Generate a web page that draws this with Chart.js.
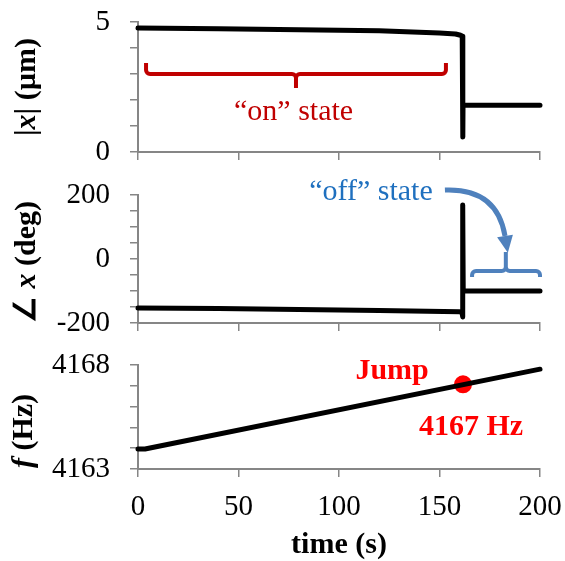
<!DOCTYPE html>
<html>
<head>
  <title>on/off state</title>
  <script src="https://cdn.jsdelivr.net/npm/chart.js"></script>
  <style>
    body { margin: 0; background: #fff; }
    #wrap { position: relative; width: 565px; height: 561px; }
    #wrap canvas { position: absolute; left: 0; }
  </style>
</head>
<body>
  <div id="wrap">
    <canvas id="magChart" width="565" height="170" style="top:0px"></canvas>
    <canvas id="phaseChart" width="565" height="170" style="top:170px"></canvas>
    <canvas id="freqChart" width="565" height="221" style="top:340px"></canvas>
  </div>
<script>
// data
const timeTicks = [0, 50, 100, 150, 200];

const magTime  = [0, 40, 80, 120, 150, 158, 160.5, 161.3, 161.6, 161.7, 200];
const magValue = [4.77, 4.74, 4.70, 4.66, 4.58, 4.54, 4.49, 4.45, 0.58, 1.8, 1.8];
const magTickLabels = [0, 5];

const phaseTime  = [0, 40, 80, 120, 160, 161.2, 161.5, 161.6, 161.8, 200];
const phaseValue = [-153, -155, -158, -161, -165, -168, -181, 169, -100, -100];
const phaseTickLabels = [-200, 0, 200];

const freqTime  = [0, 3.5, 200];
const freqValue = [4163.96, 4163.96, 4167.8];
const freqTickLabels = [4163, 4168];
const jumpTime = [161.7];
const jumpValue = [4167.07];

const SERIF = '"Liberation Serif", "Times New Roman", serif';
const AXIS_GRAY = '#868686';

function pts(xs, ys) {
  return xs.map((x, i) => ({x: x, y: ys[i]}));
}

function xScale(showLabels, height) {
  return {
    type: 'linear', min: 0, max: 200,
    afterBuildTicks: s => { s.ticks = timeTicks.map(v => ({value: v})); },
    ticks: { display: showLabels, autoSkip: false, color: '#000', padding: 13, font: {family: SERIF, size: 29}, maxRotation: 0 },
    grid: { drawOnChartArea: false, drawTicks: true, tickLength: 8, color: AXIS_GRAY, lineWidth: 1.5 },
    border: { color: AXIS_GRAY, width: 2 },
    title: showLabels ? { display: true, text: 'time (s)', color: '#000',
      font: {family: SERIF, size: 30, weight: 'bold', lineHeight: 1}, padding: {top: 0, bottom: 1} } : {display: false},
    afterFit: s => { s.height = height; s.paddingLeft = 0; s.paddingRight = 0; }
  };
}

function yScale(min, max, step, labels) {
  return {
    min: min, max: max,
    ticks: { stepSize: step, autoSkip: false, color: '#000', padding: 20, font: {family: SERIF, size: 29},
      callback: v => labels.includes(v) ? String(v) : '' },
    grid: { drawOnChartArea: false, drawTicks: true, tickLength: 8, color: AXIS_GRAY, lineWidth: 1.5 },
    border: { color: AXIS_GRAY, width: 2 },
    afterFit: s => { s.width = 138; s.paddingTop = 0; s.paddingBottom = 0; }
  };
}

// rotated y title with mixed bold / bold italic pieces
function yTitle(ctx, cx, cy, parts) {
  ctx.save();
  ctx.translate(cx, cy);
  ctx.rotate(-Math.PI / 2);
  ctx.textBaseline = 'middle';
  ctx.fillStyle = '#000';
  let w = 0;
  parts.forEach(p => { ctx.font = p[1] + ' 30px ' + SERIF; w += ctx.measureText(p[0]).width; });
  let x = -w / 2;
  parts.forEach(p => {
    ctx.font = p[1] + ' 30px ' + SERIF;
    ctx.textAlign = 'left';
    ctx.fillText(p[0], x, 0);
    x += ctx.measureText(p[0]).width;
  });
  ctx.restore();
}

function bracket(ctx, x1, x2, xm, y, arm, tip, color) {
  // arm > 0: ends point up, tip down (and the other way round)
  const r = 4, d = arm > 0 ? 1 : -1;
  ctx.save();
  ctx.strokeStyle = color;
  ctx.lineWidth = 4;
  ctx.beginPath();
  ctx.moveTo(x1, y - arm);
  ctx.arcTo(x1, y, x1 + r, y, r);
  ctx.arcTo(xm, y, xm, y + d * tip, r);
  ctx.lineTo(xm, y + d * tip);
  ctx.moveTo(x2, y - arm);
  ctx.arcTo(x2, y, x2 - r, y, r);
  ctx.arcTo(xm, y, xm, y + d * tip, r);
  ctx.lineTo(xm, y + d * tip);
  ctx.stroke();
  ctx.restore();
}

function label(ctx, text, x, y, font, color) {
  ctx.save();
  ctx.font = font;
  ctx.fillStyle = color;
  ctx.textAlign = 'center';
  ctx.textBaseline = 'alphabetic';
  ctx.fillText(text, x, y);
  ctx.restore();
}

function notes(draw) {
  return {
    id: 'notes',
    afterDraw: chart => {
      const sx = chart.scales.x, sy = chart.scales.y;
      draw(chart.ctx, v => sx.getPixelForValue(v), v => sy.getPixelForValue(v));
    }
  };
}

function makeChart(id, datasets, yOpts, xOpts, plugin, top) {
  return new Chart(document.getElementById(id), {
    type: 'line',
    data: { datasets: datasets },
    options: {
      responsive: false,
      animation: false,
      layout: { padding: { top: top, right: 25, left: 0, bottom: 0 } },
      plugins: { legend: {display: false}, tooltip: {enabled: false} },
      scales: { x: xOpts, y: yOpts }
    },
    plugins: [plugin]
  });
}

function traceSet(xs, ys) {
  return { data: pts(xs, ys), borderColor: '#000', borderWidth: 5, pointRadius: 0,
    tension: 0, borderJoinStyle: 'round', borderCapStyle: 'round', clip: 6 };
}

const magChart = makeChart('magChart', [traceSet(magTime, magValue)],
  yScale(0, 5, 1, magTickLabels), xScale(false, 18),
  notes((ctx, px, py) => {
    bracket(ctx, px(4), px(153.2), px(78.6), py(3.0), 11, 14, '#C00000');
    label(ctx, '\u201Con\u201D state', px(77.4), py(1.23), '30px ' + SERIF, '#C00000');
    yTitle(ctx, 27, 87, [['|', 'bold'], ['x', 'italic bold'], ['| (\u00B5m)', 'bold']]);
  }), 22);

const phaseChart = makeChart('phaseChart', [traceSet(phaseTime, phaseValue)],
  yScale(-200, 200, 50, phaseTickLabels), xScale(false, 17),
  notes((ctx, px, py) => {
    label(ctx, '\u201Coff\u201D state', px(115.9), py(184.4), '30px ' + SERIF, '#1F70BF');
    // curved arrow
    const sx = px(152.7), sy = py(215.6), cx = px(178.6), cy = py(221.9), ex = px(182.6), ey = py(71.9);
    ctx.save();
    ctx.strokeStyle = '#4F81BD';
    ctx.fillStyle = '#4F81BD';
    ctx.lineWidth = 5;
    ctx.beginPath();
    ctx.moveTo(sx, sy);
    ctx.quadraticCurveTo(cx, cy, ex, ey);
    ctx.stroke();
    const a = Math.atan2(ey - cy, ex - cx), L = 17, W = 8;
    ctx.beginPath();
    ctx.moveTo(ex + L * Math.cos(a), ey + L * Math.sin(a));
    ctx.lineTo(ex + W * Math.cos(a + Math.PI / 2), ey + W * Math.sin(a + Math.PI / 2));
    ctx.lineTo(ex - W * Math.cos(a + Math.PI / 2), ey - W * Math.sin(a + Math.PI / 2));
    ctx.closePath();
    ctx.fill();
    ctx.restore();
    bracket(ctx, px(166.2), px(200), px(183), py(-37.5), -6, 19, '#4F81BD');
    yTitle(ctx, 27, 92, [['\u2220 ', 'bold'], ['x', 'italic bold'], [' (deg)', 'bold']]);
  }), 25);

const freqChart = makeChart('freqChart', [
    traceSet(freqTime, freqValue),
    { type: 'scatter', data: pts(jumpTime, jumpValue), pointRadius: 9, pointBackgroundColor: '#FF0000',
      pointBorderWidth: 0, showLine: false, clip: false }
  ],
  yScale(4163, 4168, 1, freqTickLabels), xScale(true, 92),
  notes((ctx, px, py) => {
    label(ctx, 'Jump', px(126.4), py(4167.33), 'bold 30px ' + SERIF, '#FF0000');
    label(ctx, '4167 Hz', px(165.7), py(4164.63), 'bold 30px ' + SERIF, '#FF0000');
    yTitle(ctx, 24, 91, [['f', 'italic bold'], [' (Hz)', 'bold']]);
  }), 25);
</script>
</body>
</html>
